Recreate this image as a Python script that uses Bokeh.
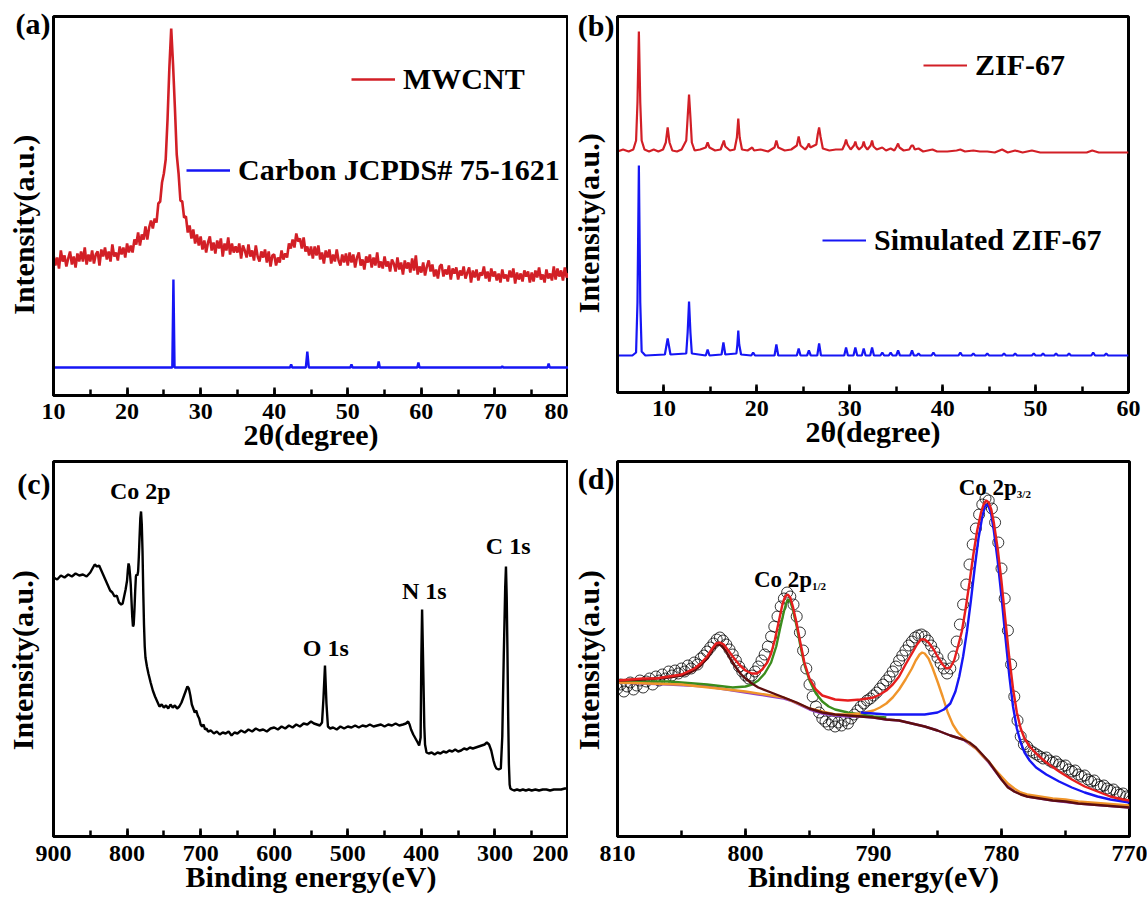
from bokeh.plotting import figure
from bokeh.layouts import row, column
from bokeh.models import Range1d, SingleIntervalTicker, FixedTicker, Label, Legend, LegendItem
from bokeh.embed import file_html
from bokeh.resources import INLINE

FONT = "Liberation Serif"

# ---------------- (a) XRD: MWCNT (0.25 deg steps from 10 to 80) and carbon reference
mwcnt_start, mwcnt_end = 10.0, 80.0
mwcnt_counts = [
    141, 130, 138, 127, 145, 134, 140, 129, 137, 144, 131, 139, 128, 142, 134, 144, 134, 148, 131, 141,
    134, 145, 132, 141, 144, 130, 146, 139, 148, 136, 144, 134, 151, 139, 143, 135, 149, 141, 148, 138,
    152, 143, 150, 143, 156, 151, 163, 150, 161, 156, 169, 156, 168, 175, 167, 177, 173, 192, 194, 213,
    222, 236, 276, 328, 367, 331, 288, 241, 222, 195, 194, 178, 179, 163, 170, 157, 166, 152, 161, 150,
    159, 146, 155, 143, 153, 159, 145, 153, 142, 155, 147, 157, 139, 152, 145, 158, 141, 152, 143, 149,
    143, 152, 137, 150, 145, 138, 151, 139, 145, 135, 150, 139, 134, 144, 138, 146, 133, 144, 129, 140,
    141, 130, 138, 133, 145, 136, 142, 138, 152, 147, 156, 148, 162, 154, 157, 147, 158, 144, 149, 140,
    149, 137, 149, 140, 150, 136, 143, 132, 145, 138, 146, 132, 141, 134, 146, 135, 130, 141, 133, 142,
    130, 143, 133, 141, 128, 138, 143, 130, 136, 126, 139, 133, 141, 128, 138, 130, 143, 128, 134, 127,
    139, 129, 134, 124, 136, 132, 124, 138, 126, 133, 121, 135, 127, 133, 123, 137, 125, 140, 121, 129,
    123, 133, 120, 129, 135, 124, 131, 119, 126, 117, 129, 131, 119, 126, 121, 130, 116, 127, 122, 128,
    116, 125, 120, 129, 117, 123, 128, 113, 125, 118, 126, 115, 123, 120, 129, 117, 124, 114, 127, 119,
    124, 115, 122, 113, 126, 117, 121, 114, 125, 118, 127, 112, 123, 116, 122, 114, 125, 119, 124, 113,
    123, 114, 125, 118, 128, 116, 121, 113, 126, 117, 122, 115, 129, 116, 127, 119, 125, 115, 128, 118,
    122,
]
carbon_ref_2theta = [10.0, 26.15, 26.3, 26.45, 42.15, 42.3, 42.45, 44.3, 44.5, 44.7, 50.35, 50.5, 50.65,
                     54.05, 54.2, 54.35, 59.45, 59.6, 59.75, 70.85, 71.0, 71.15, 77.15, 77.3, 77.45, 80.0]
carbon_ref_counts = [28, 28, 116, 28, 28, 31, 28, 28, 44, 28, 28, 31, 28,
                     28, 34, 28, 28, 33, 28, 28, 29, 28, 28, 32, 28, 28]

# ---------------- (b) XRD: ZIF-67 measured and simulated (2theta, counts)
zif67 = [
    (5.0, 241), (5.6, 243), (6.2, 241), (6.7, 243), (7.0, 252), (7.15, 290), (7.3, 361), (7.45, 290),
    (7.6, 252), (7.9, 243), (8.4, 241), (8.9, 243), (9.4, 241), (9.9, 243), (10.2, 250), (10.4, 265),
    (10.6, 250), (10.9, 242), (11.4, 241), (11.9, 243), (12.4, 252), (12.55, 275), (12.7, 298),
    (12.85, 275), (13.0, 250), (13.3, 242), (13.9, 243), (14.5, 245), (14.7, 250), (14.9, 245),
    (15.5, 242), (16.1, 243), (16.3, 248), (16.45, 252), (16.6, 246), (17.1, 242), (17.6, 243),
    (17.85, 255), (18.0, 274), (18.15, 255), (18.4, 243), (19.0, 242), (19.5, 245), (19.7, 242),
    (20.4, 243), (21.2, 241), (21.9, 245), (22.1, 252), (22.3, 245), (23.0, 242), (23.7, 243),
    (24.3, 247), (24.5, 256), (24.7, 247), (25.2, 243), (25.45, 246), (25.6, 249), (25.75, 245),
    (26.4, 248), (26.55, 258), (26.7, 265), (26.85, 256), (27.1, 244), (27.8, 242), (28.5, 243),
    (29.2, 243), (29.45, 248), (29.6, 253), (29.75, 248), (30.1, 243), (30.45, 247), (30.6, 251),
    (30.75, 246), (31.0, 243), (31.35, 246), (31.5, 251), (31.65, 246), (31.9, 243), (32.25, 247),
    (32.4, 252), (32.55, 246), (32.9, 243), (33.5, 245), (33.9, 242), (34.4, 244), (34.8, 242),
    (35.05, 246), (35.2, 249), (35.35, 245), (35.8, 242), (36.4, 243), (36.65, 247), (36.8, 247),
    (37.0, 243), (37.4, 244), (37.9, 241), (38.4, 242), (38.9, 243), (39.4, 241), (40.5, 241),
    (41.5, 242), (41.9, 243), (42.4, 241), (43.3, 242), (44.0, 241), (44.8, 241), (45.6, 240),
    (46.4, 243), (47.0, 240), (47.8, 242), (48.6, 240), (49.6, 242), (50.5, 240), (51.5, 240),
    (52.5, 240), (53.5, 240), (54.5, 240), (55.5, 240), (56.1, 242), (56.8, 240), (58.0, 240),
    (59.0, 240), (60.0, 240),
]
zif67_simulated = [
    (5.0, 37), (6.6, 37), (7.0, 40), (7.15, 90), (7.3, 227), (7.45, 90), (7.6, 41), (8.0, 37),
    (10.1, 38), (10.4, 54), (10.7, 38), (12.4, 39), (12.55, 60), (12.7, 91), (12.85, 60), (13.0, 39),
    (14.5, 37), (14.7, 43), (14.9, 37), (16.2, 38), (16.4, 50), (16.6, 38), (17.8, 39), (17.9, 48),
    (18.0, 62), (18.1, 48), (18.3, 38), (19.4, 37), (19.6, 40), (19.8, 37), (21.9, 37), (22.1, 48),
    (22.3, 37), (24.3, 37), (24.5, 44), (24.7, 37), (25.4, 37), (25.6, 42), (25.8, 37), (26.5, 37),
    (26.7, 49), (26.9, 37), (29.4, 37), (29.6, 45), (29.8, 37), (30.4, 37), (30.6, 45), (30.8, 37),
    (31.3, 37), (31.5, 44), (31.7, 37), (32.2, 37), (32.4, 45), (32.6, 37), (33.3, 37), (33.5, 40),
    (33.7, 37), (34.2, 37), (34.4, 40), (34.6, 37), (35.0, 37), (35.2, 42), (35.4, 37), (36.5, 37),
    (36.7, 42), (36.9, 37), (37.2, 37), (37.4, 39), (37.6, 37), (38.8, 37), (39.0, 40), (39.2, 37),
    (41.7, 37), (41.9, 40), (42.1, 37), (43.1, 37), (43.3, 39), (43.5, 37), (44.6, 37), (44.8, 39),
    (45.0, 37), (46.4, 37), (46.6, 39), (46.8, 37), (47.6, 37), (47.8, 39), (48.0, 37), (49.6, 37),
    (49.8, 39), (50.0, 37), (50.6, 37), (50.8, 39), (51.0, 37), (52.0, 37), (52.2, 39), (52.4, 37),
    (53.4, 37), (53.6, 39), (53.8, 37), (56.0, 37), (56.2, 40), (56.4, 37), (57.4, 37), (57.6, 39),
    (57.8, 37), (60.0, 37),
]

# ---------------- (c) XPS survey (binding energy eV, counts)
xps_survey = [
    (900, 259), (895, 257), (890, 261), (885, 259), (880, 262), (875, 260), (870, 263), (865, 261),
    (860, 262), (855, 260), (850, 264), (847, 268), (844, 272), (841, 270), (838, 271), (835, 266),
    (832, 261), (829, 256), (826, 251), (823, 246), (820, 244), (817, 240), (814, 241), (811, 234),
    (808, 232), (806, 233), (804, 240), (802, 247), (800, 256), (799, 266), (798, 273), (797, 270),
    (796, 262), (795, 252), (794, 236), (793, 220), (792, 210), (791, 212), (790, 226), (789, 245),
    (788, 260), (787, 262), (786, 261), (785, 265), (784, 280), (783, 300), (782, 318), (781, 325),
    (780, 312), (779, 285), (778, 245), (777, 212), (776, 190), (775, 179), (773, 170), (771, 163),
    (768, 154), (765, 146), (762, 140), (759, 135), (756, 130), (753, 132), (750, 129), (747, 131),
    (744, 128), (741, 132), (738, 129), (735, 131), (732, 128), (729, 130), (726, 134), (723, 140),
    (720, 146), (718, 150), (716, 148), (714, 141), (712, 132), (710, 128), (708, 124), (706, 126),
    (704, 121), (702, 118), (700, 112), (698, 110), (696, 112), (694, 107), (692, 108), (690, 105),
    (686, 106), (682, 103), (678, 105), (674, 102), (670, 104), (666, 103), (662, 105), (658, 101),
    (654, 104), (650, 103), (645, 106), (640, 104), (635, 107), (630, 105), (625, 108), (620, 106),
    (615, 107), (610, 105), (605, 108), (600, 109), (595, 107), (590, 110), (585, 108), (580, 111),
    (575, 109), (570, 112), (565, 110), (560, 113), (555, 112), (550, 115), (546, 113), (542, 112),
    (538, 111), (535, 114), (533, 139), (531, 171), (529, 133), (527, 110), (524, 108), (520, 109),
    (515, 107), (510, 110), (505, 108), (500, 110), (495, 109), (490, 111), (485, 109), (480, 111),
    (475, 110), (470, 112), (465, 110), (460, 111), (455, 112), (450, 110), (445, 112), (440, 111),
    (435, 113), (430, 111), (425, 112), (421, 113), (418, 115), (416, 112), (414, 107), (411, 102),
    (408, 98), (405, 94), (403, 91), (401, 99), (400, 180), (399, 227), (398, 190), (397, 150),
    (396, 110), (395, 92), (393, 84), (390, 83), (386, 84), (382, 82), (378, 84), (374, 83),
    (370, 85), (366, 84), (362, 86), (358, 85), (354, 87), (350, 85), (346, 86), (342, 88),
    (338, 87), (334, 89), (330, 88), (326, 89), (322, 90), (318, 91), (314, 92), (311, 94),
    (308, 92), (305, 86), (302, 76), (300, 71), (298, 68), (295, 67), (292, 68), (290, 100),
    (288, 180), (286, 250), (285, 270), (284, 240), (283, 186), (282, 120), (281, 72), (280, 52),
    (279, 48), (277, 47), (274, 46), (270, 47), (266, 46), (262, 47), (258, 46), (254, 47),
    (250, 46), (245, 47), (240, 46), (235, 47), (230, 47), (225, 46), (220, 47), (215, 47),
    (210, 47), (205, 48), (200, 48),
]
survey_peaks = ["Co 2p", "O 1s", "N 1s", "C 1s"]

# ---------------- (d) Co 2p high-resolution spectrum (raw, 0.25 eV steps from 810 to 770) and fit
co2p_start, co2p_end = 810.0, 770.0
co2p_raw = [
    148, 152, 145, 150, 154, 147, 151, 156,
    149, 155, 158, 152, 160, 156, 162, 158,
    165, 161, 166, 163, 168, 165, 171, 168,
    174, 172, 178, 181, 185, 189, 193, 197,
    199, 196, 192, 187, 182, 176, 170, 165,
    161, 158, 161, 165, 170, 176, 182, 190,
    200, 210, 220, 230, 238, 244, 240, 232,
    220, 204, 186, 168, 152, 140, 130, 124,
    118, 115, 112, 115, 110, 114, 111, 116,
    113, 118, 122, 126, 130, 133, 136, 138,
    141, 144, 148, 152, 156, 160, 165, 170,
    176, 181, 186, 191, 195, 199, 201, 202,
    200, 196, 191, 185, 179, 173, 168, 163,
    168, 180, 195, 212, 232, 252, 272, 292,
    308, 322, 332, 338, 336, 328, 314, 294,
    268, 238, 206, 172, 140, 116, 100, 92,
    90, 86, 84, 82, 80, 78, 79, 76,
    74, 75, 72, 70, 71, 67, 65, 66,
    62, 60, 61, 57, 55, 56, 52, 50,
    51, 48, 46, 47, 44, 42, 43, 40,
    39,
]
fit_envelope = [
    (810, 156), (809, 157), (808, 158), (807, 158), (806, 160), (805, 162), (804.5, 165), (804, 168),
    (803.5, 173), (803, 180), (802.6, 188), (802.3, 193), (802, 194), (801.7, 192), (801.4, 187),
    (801, 180), (800.5, 172), (800, 166), (799.5, 163), (799.1, 163), (798.7, 167), (798.3, 174),
    (798, 183), (797.7, 197), (797.4, 215), (797.1, 233), (796.9, 240), (796.7, 242), (796.5, 239),
    (796.3, 230), (796, 213), (795.7, 193), (795.4, 174), (795, 158), (794.5, 147), (794, 141),
    (793, 137), (792, 136), (791, 137), (790, 139), (789.5, 142), (789, 146), (788.5, 152),
    (788, 160), (787.5, 172), (787, 183), (786.6, 192), (786.3, 197), (786, 197), (785.7, 194),
    (785.3, 187), (785, 180), (784.6, 172), (784.3, 168), (784, 169), (783.7, 176), (783.4, 190),
    (783.1, 205), (782.8, 228), (782.5, 254), (782.2, 282), (781.9, 306), (781.6, 324), (781.4, 332),
    (781.2, 336), (781, 334), (780.8, 327), (780.6, 314), (780.3, 288), (780, 255), (779.7, 217),
    (779.4, 180), (779.1, 148), (778.8, 124), (778.5, 108), (778.2, 98), (777.8, 90), (777.3, 83),
    (776.5, 74), (775.5, 65), (774.5, 57), (773.5, 50), (772.5, 45), (771.5, 40), (770.5, 37),
    (770, 36),
]
fit_co2p32 = [
    (791, 124), (790, 123), (789, 122), (788, 122), (787, 122), (786, 122), (785.5, 123), (785, 124),
    (784.5, 127), (784, 133), (783.6, 145), (783.3, 160), (783, 180), (782.7, 205), (782.4, 235),
    (782.1, 268), (781.8, 298), (781.5, 320), (781.3, 330), (781.15, 332), (781, 330), (780.8, 322),
    (780.6, 306), (780.3, 276), (780, 240), (779.7, 200), (779.4, 162), (779.1, 130), (778.8, 108),
    (778.5, 94), (778.2, 84), (777.8, 76), (777.3, 69), (776.5, 62), (775.5, 55), (774.5, 49),
    (773.5, 44), (772.5, 40), (771.5, 37), (770.5, 35), (770, 34),
]
fit_co2p12 = [
    (810, 155), (806, 155), (803, 152), (801, 149), (800, 150), (799.5, 152), (799, 156), (798.5, 163),
    (798, 174), (797.6, 190), (797.3, 208), (797, 225), (796.8, 234), (796.65, 237), (796.5, 235),
    (796.3, 227), (796, 210), (795.7, 190), (795.4, 172), (795, 156), (794.5, 143), (794, 135),
    (793.5, 130), (793, 127), (792, 124), (791, 122), (790, 120), (789, 119),
]
fit_sat1 = [
    (810, 154), (805, 152), (800, 145), (797, 139), (795, 128), (793, 122), (792, 122), (791, 123),
    (790, 126), (789.5, 129), (789, 133), (788.5, 139), (788, 147), (787.5, 157), (787, 168),
    (786.7, 176), (786.4, 182), (786.2, 184), (786, 183), (785.7, 178), (785.4, 169), (785, 155),
    (784.6, 140), (784.2, 124), (783.8, 112), (783.4, 104), (783, 99), (782.5, 93), (782, 88),
    (781.5, 81), (781, 75), (780.5, 67), (780, 60), (779.5, 53), (779, 48), (778.5, 44), (778, 42),
    (777, 40), (776, 38), (775, 37), (774, 35), (773, 34), (772, 33), (771, 32), (770, 31),
]
fit_sat2 = [
    (810, 156), (808, 157), (806, 159), (805, 161), (804.5, 163), (804, 166), (803.5, 171), (803, 178),
    (802.6, 186), (802.3, 191), (802.05, 192), (801.8, 190), (801.5, 185), (801.2, 178), (800.8, 170),
    (800.4, 163), (800, 158), (799.5, 153), (799, 149), (798, 144), (797, 139), (796, 134), (795, 128),
    (794, 124), (793, 122), (792, 121), (791, 120), (790, 119), (789, 117), (788, 116), (787, 113),
    (786, 110), (785, 106), (784, 101), (783, 97), (782.5, 94), (782, 89), (781.5, 82), (781, 75),
    (780.5, 66), (780, 57), (779.5, 49), (779, 45), (778.5, 42), (778, 40), (777, 38), (776, 36),
    (775, 35), (774, 33), (773, 32), (772, 31), (771, 30), (770, 29),
]
fit_background = [
    (810, 154), (806, 152), (803, 150), (801, 146), (800, 144), (799, 142), (798, 140), (797, 138),
    (796.5, 136), (796, 133), (795.5, 130), (795, 127), (794.5, 125), (794, 123), (793, 121),
    (792, 120), (791, 120), (790, 119), (789, 117), (788, 116), (787, 113), (786, 110), (785, 106),
    (784, 101), (783, 97), (782, 88), (781, 74), (780, 57), (779, 45), (778, 40), (776, 36),
    (774, 33), (772, 31), (770, 29),
]

# ---------------- annotation placement (kept apart from the data)
survey_label_pos = [(782, 346), (530, 189), (396, 246), (282, 291)]
co2p_label_pos = {"1/2": (794.8, 257, 251), "3/2": (778.8, 349, 343)}

RED_A = "#d21f26"
BLUE = "#1616f5"
RED_D = "#e61e1e"
GREEN = "#3b8c1d"
ORANGE = "#f0952a"
BROWN = "#5e0e0e"
PURPLE = "#9040c8"
NBSP = "\u00a0"


def unzip(pairs):
    return [a for a, _ in pairs], [b for _, b in pairs]


def grid(start, end, n):
    step = (end - start) / (n - 1)
    return [start + i * step for i in range(n)]


def make_panel(xr, yr, fw, fh, mbl, mbr, mbt, mbb, interval, tick_standoff,
               letter, letter_pos, ylab_standoff, ylab_pad, xtitle):
    p = figure(frame_width=fw, frame_height=fh, x_range=xr, y_range=yr, output_backend="svg",
               toolbar_location=None, min_border_left=mbl, min_border_right=mbr,
               min_border_top=mbt, min_border_bottom=mbb)
    p.xgrid.visible = False
    p.ygrid.visible = False
    p.outline_line_color = "black"
    p.outline_line_width = 3
    p.outline_line_alpha = 1
    p.background_fill_color = "white"
    p.border_fill_color = "white"

    xa = p.xaxis[0]
    xa.ticker = SingleIntervalTicker(interval=interval, num_minor_ticks=2)
    xa.axis_line_width = 3
    xa.axis_line_color = "black"
    xa.major_tick_in = 8
    xa.major_tick_out = 0
    xa.minor_tick_in = 6
    xa.minor_tick_out = 0
    xa.major_tick_line_width = 2.5
    xa.minor_tick_line_width = 2.5
    xa.major_tick_line_color = "black"
    xa.minor_tick_line_color = "black"
    xa.major_label_standoff = tick_standoff
    xa.major_label_text_font = FONT
    xa.major_label_text_font_size = "24px"
    xa.major_label_text_font_style = "bold"
    xa.major_label_text_color = "black"
    xa.axis_label = xtitle
    xa.axis_label_text_font = FONT
    xa.axis_label_text_font_size = "30px"
    xa.axis_label_text_font_style = "bold"
    xa.axis_label_text_color = "black"
    xa.axis_label_standoff = -4

    # left axis: no intensity ticks; the panel letter rides on a single tick label
    ya = p.yaxis[0]
    ya.ticker = FixedTicker(ticks=[letter_pos])
    ya.major_label_overrides = {letter_pos: letter}
    ya.axis_line_width = 3
    ya.axis_line_color = "black"
    ya.major_tick_in = 0
    ya.major_tick_out = 0
    ya.major_tick_line_color = None
    ya.minor_tick_line_color = None
    ya.major_label_standoff = 3
    ya.major_label_text_font = FONT
    ya.major_label_text_font_size = "30px"
    ya.major_label_text_font_style = "bold"
    ya.major_label_text_color = "black"
    ya.axis_label = "Intensity(a.u.)" + NBSP * ylab_pad
    ya.axis_label_text_font = FONT
    ya.axis_label_text_font_size = "30px"
    ya.axis_label_text_font_style = "bold"
    ya.axis_label_text_color = "black"
    ya.axis_label_standoff = ylab_standoff
    return p


def add_legend(p, label, renderer, x, y):
    leg = Legend(items=[LegendItem(label=label, renderers=[renderer])], location=(x, y),
                 border_line_color=None, background_fill_alpha=0, padding=0, margin=0, spacing=0,
                 glyph_width=44, glyph_height=34, label_height=34, label_standoff=8,
                 label_text_font=FONT, label_text_font_size="30px", label_text_font_style="bold",
                 label_text_color="black")
    p.add_layout(leg)


# ---------------- panel (a)
pa = make_panel(Range1d(10, 80), Range1d(0, 379), 515, 379, 53, 0, 13, 64, 10, 8,
                "(a)", 372, -27, 5, "2θ(degree)")
r_mw = pa.line(grid(mwcnt_start, mwcnt_end, len(mwcnt_counts)), mwcnt_counts,
               line_color=RED_A, line_width=2.6)
r_cref = pa.line(carbon_ref_2theta, carbon_ref_counts, line_color=BLUE, line_width=2.4)
add_legend(pa, "MWCNT", r_mw, 298, 299)
add_legend(pa, "Carbon JCPDS# 75-1621", r_cref, 133, 208)

# ---------------- panel (b)
pb = make_panel(Range1d(5, 60), Range1d(0, 376), 511, 376, 48, 18, 16, 64, 10, 8,
                "(b)", 367, -30, 5, "2θ(degree)")
zx, zy = unzip(zif67)
sx, sy = unzip(zif67_simulated)
r_zif = pb.line(zx, zy, line_color=RED_A, line_width=2.2)
r_sim = pb.line(sx, sy, line_color=BLUE, line_width=2.2)
add_legend(pb, "ZIF-67", r_zif, 306, 310)
add_legend(pb, "Simulated ZIF-67", r_sim, 205, 135)

# ---------------- panel (c)
pc = make_panel(Range1d(900, 200), Range1d(0, 375), 515, 375, 53, 0, 5, 64, 100, 9,
                "(c)", 374, -25, 3, "Binding energy(eV)")
cx, cy = unzip(xps_survey)
pc.line(cx, cy, line_color="black", line_width=2.4)
for name, (lx, ly) in zip(survey_peaks, survey_label_pos):
    pc.add_layout(Label(x=lx, y=ly, text=name, text_align="center", text_baseline="middle",
                        text_font=FONT, text_font_size="24px", text_font_style="bold",
                        text_color="black"))

# ---------------- panel (d)
pd_ = make_panel(Range1d(810, 770), Range1d(0, 375), 512, 375, 48, 18, 4, 65, 10, 9,
                 "(d)", 369, -30, 3, "Binding energy(eV)")
pd_.scatter(grid(co2p_start, co2p_end, len(co2p_raw)), co2p_raw, marker="circle", size=11,
            fill_color=None, line_color="black", line_alpha=0.8, line_width=1)
for pairs, col in [(fit_background, PURPLE), (fit_co2p12, GREEN), (fit_sat1, ORANGE),
                   (fit_sat2, BROWN), (fit_co2p32, BLUE), (fit_envelope, RED_D)]:
    fx, fy = unzip(pairs)
    pd_.line(fx, fy, line_color=col, line_width=2.4)
for sub, (lx, ly, sy_) in co2p_label_pos.items():
    pd_.add_layout(Label(x=lx, y=ly, text="Co 2p", text_align="right", text_baseline="alphabetic",
                         text_font=FONT, text_font_size="23px", text_font_style="bold",
                         text_color="black"))
    pd_.add_layout(Label(x=lx, y=sy_, text=sub, text_align="left", text_baseline="alphabetic",
                         text_font=FONT, text_font_size="11px", text_font_style="bold",
                         text_color="black"))

layout = column(row(pa, pb), row(pc, pd_))
open("out.html", "w").write(file_html(layout, INLINE))
